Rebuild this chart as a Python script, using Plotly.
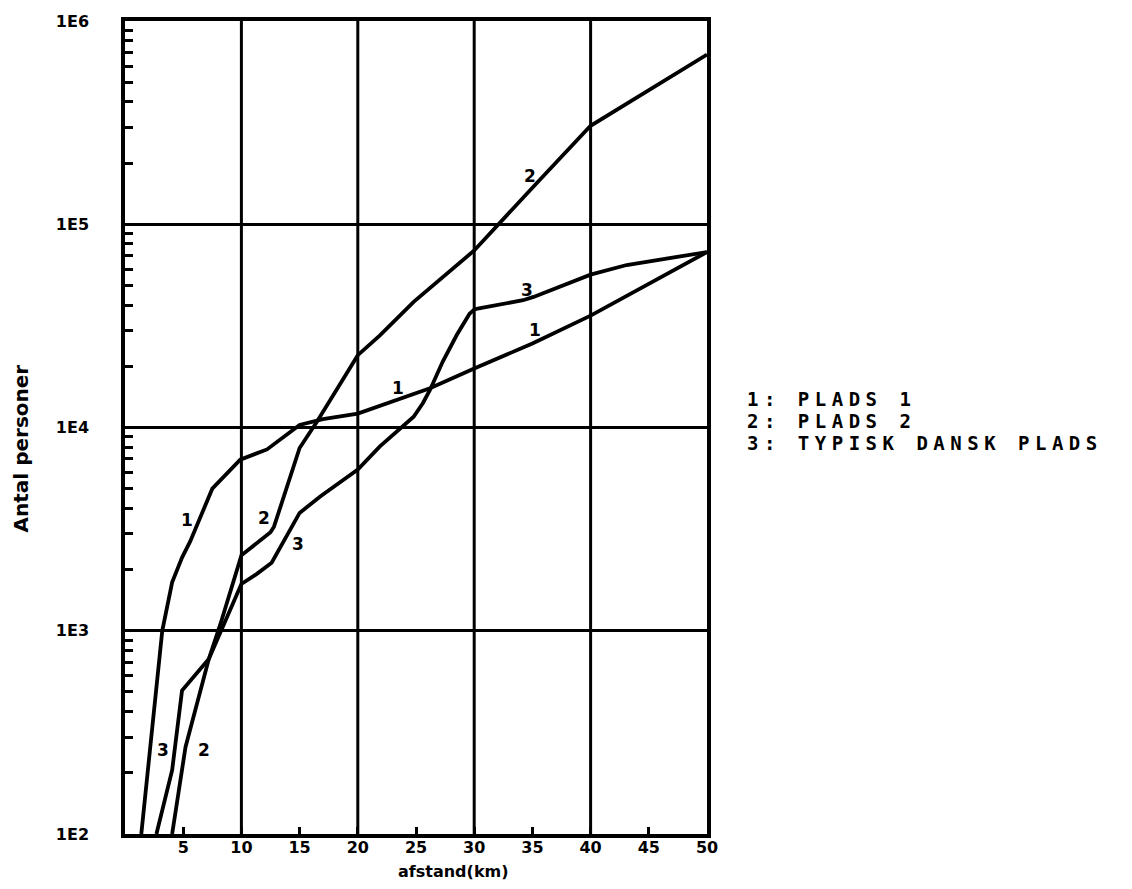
import plotly.graph_objects as go

# Distance (km) and number of persons for each site
x_plads1 = [1.4, 3.2, 4.05, 4.9, 5.6, 7.5, 9.9, 12.2, 15.0, 17.0, 20.0, 24.8, 26.2, 30.0, 35.0, 40.0, 50.0]
y_plads1 = [100, 1000, 1730, 2290, 2750, 5000, 6950, 7800, 10300, 11000, 11700, 14500, 15600, 19500, 25900, 35500, 73000]

x_plads2 = [4.05, 5.2, 7.2, 8.2, 10.0, 12.5, 12.8, 15.0, 16.5, 18.6, 20.0, 21.9, 24.8, 30.0, 32.2, 35.4, 40.0, 50.0]
y_plads2 = [100, 268, 726, 1080, 2350, 3050, 3250, 7930, 10700, 16800, 22700, 28400, 41500, 74300, 102000, 160000, 305000, 684000]

x_typisk = [2.7, 4.05, 4.9, 7.2, 10.0, 11.3, 12.6, 15.0, 16.8, 20.0, 21.9, 23.3, 24.8, 25.6, 26.2, 27.3, 28.5, 29.6, 30.0, 30.3, 34.2, 35.1, 40.0, 43.1, 50.0]
y_typisk = [100, 206, 508, 726, 1700, 1900, 2160, 3800, 4590, 6210, 8070, 9550, 11300, 13200, 15300, 21100, 28500, 36300, 38000, 38500, 42300, 43900, 56500, 63000, 73000]

x_ticks = [5, 10, 15, 20, 25, 30, 35, 40, 45, 50]
y_ticks = [100, 1000, 10000, 100000, 1000000]
y_ticktext = ["1E2", "1E3", "1E4", "1E5", "1E6"]
x_grid = [10, 20, 30, 40]

legend_lines = ["1: PLADS 1", "2: PLADS 2", "3: TYPISK DANSK PLADS"]

# curve number labels: (text, x km, log10 persons)
curve_labels = [
    ("1", 5.33, 3.547), ("1", 23.48, 4.193), ("1", 35.2, 4.479),
    ("2", 11.9, 3.555), ("2", 6.76, 2.412), ("2", 34.78, 5.239),
    ("3", 14.9, 3.425), ("3", 3.28, 2.412), ("3", 34.5, 4.675),
]

BLACK = "#000000"
LINE_W = 3.8

fig = go.Figure()
for xs, ys in [(x_plads1, y_plads1), (x_plads2, y_plads2), (x_typisk, y_typisk)]:
    fig.add_trace(go.Scatter(x=xs, y=ys, mode="lines",
                             line=dict(color=BLACK, width=LINE_W),
                             showlegend=False, hoverinfo="skip"))

# vertical grid lines every 10 km
for v in x_grid:
    fig.add_shape(type="line", xref="x", yref="paper", x0=v, x1=v, y0=0, y1=1,
                  line=dict(color=BLACK, width=3), layer="below")

minor_y = [m * 10 ** e for e in range(2, 6) for m in range(2, 10)]

tick_font = dict(family="DejaVu Sans", size=16, color=BLACK, weight="bold")

fig.update_layout(
    width=1132, height=889,
    margin=dict(l=125, r=425, t=18, b=55),
    paper_bgcolor="white", plot_bgcolor="white",
    showlegend=False,
    xaxis=dict(
        range=[0, 50], tickmode="array", tickvals=x_ticks,
        ticks="inside", ticklen=7, tickwidth=3, tickcolor=BLACK,
        showgrid=False, zeroline=False,
        showline=True, linecolor=BLACK, linewidth=3.5, mirror=True,
        tickfont=tick_font, ticklabelstandoff=-4,
    ),
    yaxis=dict(
        type="log", range=[2, 6], tickmode="array",
        tickvals=y_ticks, ticktext=y_ticktext,
        ticks="", showgrid=True, gridcolor=BLACK, gridwidth=3,
        zeroline=False,
        showline=True, linecolor=BLACK, linewidth=3.5, mirror=True,
        tickfont=tick_font, ticklabelstandoff=29,
        minor=dict(tickmode="array", tickvals=minor_y, ticks="inside",
                   ticklen=8, tickwidth=3, tickcolor=BLACK, showgrid=False),
    ),
)

annotations = []
for txt, xv, lv in curve_labels:
    annotations.append(dict(text=txt, x=xv, y=lv, xref="x", yref="y",
                            showarrow=False,
                            font=dict(family="DejaVu Sans", size=17, color=BLACK, weight="bold")))

# axis titles
annotations.append(dict(text="Antal personer", x=21, y=447, showarrow=False,
                        xref="paper", yref="paper", textangle=-90,
                        xanchor="center", yanchor="middle",
                        font=dict(family="DejaVu Sans", size=20, color=BLACK, weight="bold")))
annotations.append(dict(text="afstand(km)", x=453, y=872, showarrow=False,
                        xref="paper", yref="paper",
                        xanchor="center", yanchor="middle",
                        font=dict(family="DejaVu Sans", size=16, color=BLACK, weight="bold")))

# side key
for i, line in enumerate(legend_lines):
    annotations.append(dict(
        text='<span style="letter-spacing:5.5px">' + line + '</span>',
        x=745, y=397 + 22.5 * i, showarrow=False, xref="paper", yref="paper",
        xanchor="left", yanchor="middle",
        font=dict(family="DejaVu Sans Mono", size=19, color=BLACK, weight="bold")))

# convert pixel placements for paper-referenced annotations
plot_l, plot_r, plot_t, plot_b = 125, 1132 - 425, 18, 889 - 55
for a in annotations:
    if a["xref"] == "paper":
        a["x"] = (a["x"] - plot_l) / (plot_r - plot_l)
        a["y"] = (plot_b - a["y"]) / (plot_b - plot_t)

fig.update_layout(annotations=annotations)
fig.write_html("out.html")
